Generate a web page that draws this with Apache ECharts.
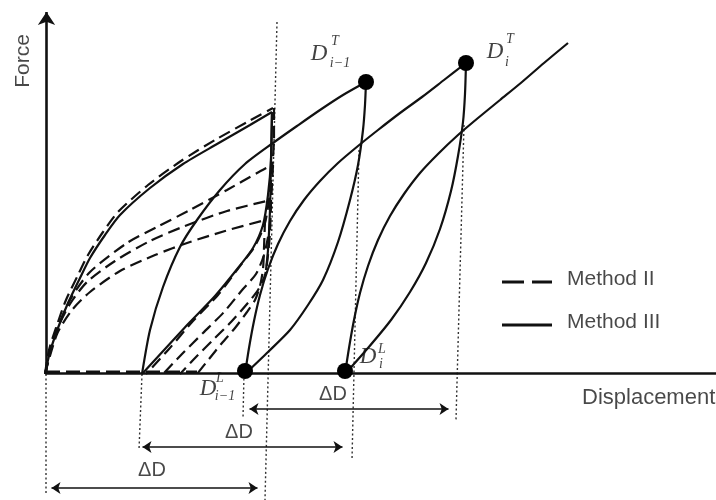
<!DOCTYPE html>
<html><head><meta charset="utf-8">
<script src="https://cdn.jsdelivr.net/npm/echarts/dist/echarts.min.js"></script>
<style>html,body{margin:0;padding:0;background:#fff}#c{width:716px;height:500px}</style>
</head><body><div id="c"></div>
<script>
// Schematic units: x = displacement, y = force
const xRange = [-45, 671];
const yRange = [-126, 374];

// ---- Method III (solid) ----
const m3Backbone = [[0,0],[5,22],[13,46],[23,71],[35,96],[45,116],[60,139],[75,159],[105,186],[138,210],[172,230],[205,249],[227,262]];
const m3Unload1 = [[227,262],[226,214],[223,179],[218,149],[208,126],[193,106],[170,78],[145,52],[120,25],[97,0]];
const m3Drop1 = [[227,262],[226,214],[225,164],[223,124],[221,104]];
const m3Reload1 = [[97,0],[105,44],[118,87],[135,127],[152,154],[175,184],[200,210],[228,231],[252,248],[275,264],[298,279],[321,292]];
const m3Unload2 = [[321,292],[320,269],[318,244],[313,209],[305,174],[293,132],[278,94],[263,69],[245,44],[223,22],[200,0]];
const m3Reload2 = [[200,0],[204,26],[209,53],[215,79],[223,105],[233,130],[245,153],[259,174],[275,193],[293,211],[313,228],[333,244],[355,261],[377,277],[399,294],[421,311]];
const m3Unload3 = [[421,311],[420,280],[418,252],[413,218],[406,183],[395,145],[381,111],[365,82],[346,54],[323,26],[300,0]];
const m3Reload3 = [[300,0],[304,26],[309,54],[315,81],[323,108],[333,134],[345,158],[359,180],[375,201],[393,220],[413,239],[433,256],[455,274],[477,292],[499,311],[523,331]];

// ---- Method II (dashed) ----
const m2Load1 = [[0,0],[4,24],[12,49],[21,74],[33,99],[43,119],[58,142],[73,162],[103,189],[136,213],[170,234],[204,253],[228,266]];
const m2Unload1 = [[229,266],[229,235],[228,217],[225,182],[220,151],[210,128],[195,108],[173,79],[148,53],[124,25],[101,0]];
const m2Load2 = [[0,0],[10,39],[25,74],[45,102],[82,131],[112,147],[145,164],[182,184],[212,201],[227,209]];
const m2Unload2 = [[228,209],[226,171],[224,143],[219,119],[211,100],[198,85],[179,62],[158,41],[137,20],[118,0]];
const m2Load3 = [[0,0],[11,42],[25,70],[42,92],[70,113],[105,133],[140,148],[182,163],[226,174]];
const m2Unload3 = [[226,174],[225,142],[223,119],[220,99],[213,84],[202,70],[186,52],[169,35],[151,17],[135,0]];
const m2Load4 = [[0,0],[12,40],[27,64],[45,82],[75,103],[110,119],[145,132],[180,143],[220,154]];
const m2Unload4 = [[220,154],[219,126],[218,105],[215,88],[210,74],[202,62],[190,46],[177,31],[164,15],[152,0]];
const m2Base = [[1,2],[152,2]];

// key points D^T_{i-1}, D^T_i, D^L_{i-1}, D^L_i
const keyPoints = [[321,292],[421,311],[200,3],[300,3]];

// reference (dotted) lines
const dottedLines = [
  [[1,0],[1,-121]],
  [[97,0],[94,-76]],
  [[199,0],[198,-44]],
  [[232,352],[220,-126]],
  [[314,224],[307,-86]],
  [[419,249],[411,-46]]
];

// ΔD dimension arrows (y level, x from, x to) and labels
const dimArrows = [[-35,204.5,403.5],[-73,97.5,297.5],[-114,6.5,212.5]];
const dimLabelText = ['ΔD','ΔD','ΔD'];
const dimLabelPos = [[288,-20],[194,-58],[107,-96]];

// axes
const xAxisLine = [[1,0.5],[671,0.5]];
const yAxisLine = [[1.5,0],[1.5,362]];
const axisTitleText = ['Force','Displacement'];
const axisTitlePos = [[-22,313],[537,-24]];

// point labels
const ptMainText = ['D','D','D','D'];
const ptMainPos = [[274,320],[450,322],[163,-15],[323,17]];
const ptSupText = ['T','T','L','L'];
const ptSupPos = [[290,333],[465,335],[175,-4],[337,25]];
const ptSubText = ['i\u22121','i','i\u22121','i'];
const ptSubPos = [[295,311],[462,312],[180,-22],[336,10]];

// legend (drawn as samples + text)
const legendNames = ['Method II','Method III'];
const legendSampleY = [92, 49];
const legendSampleX = [457, 507];
const legendTextPos = [[522,95],[522,52]];

const INK = '#111';
const SANS = 'Liberation Sans, Arial, sans-serif';
const SERIF = 'Liberation Serif, Times New Roman, serif';

function curve(name, data, dashed) {
  return {
    name: name, type: 'line', data: data, symbol: 'none', showSymbol: false,
    smooth: 0.25, silent: true, z: 3,
    lineStyle: { color: INK, width: 2.2, type: dashed ? [12, 6] : 'solid', cap: 'butt' },
    itemStyle: { color: INK }
  };
}
function plain(data, style, z) {
  return { type: 'line', data: data, symbol: 'none', silent: true, z: z || 2, lineStyle: style, itemStyle: { color: INK } };
}
function textPoints(texts, pos, label) {
  return {
    type: 'scatter', symbolSize: 0, silent: true, z: 6,
    data: texts.map((t, i) => ({ value: pos[i], label: Object.assign({ show: true, formatter: t }, label) }))
  };
}

const series = [];
[m2Load1, m2Unload1, m2Load2, m2Unload2, m2Load3, m2Unload3, m2Load4, m2Unload4].forEach(d => series.push(curve(legendNames[0], d, true)));
series.push(Object.assign(curve(legendNames[0], m2Base, true), { smooth: false, lineStyle: { color: INK, width: 3, type: [14, 6] } }));
[m3Backbone, m3Unload1, m3Drop1, m3Reload1, m3Unload2, m3Reload2, m3Unload3, m3Reload3].forEach(d => series.push(curve(legendNames[1], d, false)));

dottedLines.forEach(d => series.push(plain(d, { color: '#333', width: 1.4, type: [2, 2.5] }, 1)));

// axes
series.push(plain(xAxisLine, { color: INK, width: 2.6 }, 4));
series.push({
  type: 'line', data: [], silent: true, z: 4,
  markLine: {
    silent: true, animation: false, symbol: ['none', 'arrow'], symbolSize: 13,
    label: { show: false }, lineStyle: { color: INK, width: 2.6, type: 'solid' },
    emphasis: { disabled: true },
    data: [[{ coord: yAxisLine[0] }, { coord: yAxisLine[1] }]]
  }
});
// dimension arrows
series.push({
  type: 'line', data: [], silent: true, z: 4,
  markLine: {
    silent: true, animation: false, symbol: ['arrow', 'arrow'], symbolSize: 9,
    label: { show: false }, lineStyle: { color: INK, width: 1.6, type: 'solid' },
    emphasis: { disabled: true },
    data: dimArrows.map(a => [{ coord: [a[1], a[0]] }, { coord: [a[2], a[0]] }])
  }
});

// key points
series.push({ type: 'scatter', data: keyPoints, symbol: 'circle', symbolSize: 16, silent: true, z: 5, itemStyle: { color: '#000', opacity: 1 } });

// legend samples
series.push(plain([[legendSampleX[0], legendSampleY[0]], [legendSampleX[1], legendSampleY[0]]], { color: INK, width: 3, type: [22, 8] }, 4));
series.push(plain([[legendSampleX[0], legendSampleY[1]], [legendSampleX[1], legendSampleY[1]]], { color: INK, width: 3, type: 'solid' }, 4));
series.push(textPoints(legendNames, legendTextPos, { position: [0, 0], align: 'left', verticalAlign: 'middle', fontFamily: SANS, fontSize: 21, color: '#1a1a1a' }));

// texts
series.push(textPoints(dimLabelText, dimLabelPos, { position: 'inside', align: 'center', verticalAlign: 'middle', fontFamily: SANS, fontSize: 20, color: '#1a1a1a' }));
series.push(textPoints([axisTitleText[0]], [axisTitlePos[0]], { position: 'inside', align: 'center', verticalAlign: 'middle', rotate: 90, fontFamily: SANS, fontSize: 21, color: '#1a1a1a' }));
series.push(textPoints([axisTitleText[1]], [axisTitlePos[1]], { position: [0, 0], align: 'left', verticalAlign: 'middle', fontFamily: SANS, fontSize: 22, color: '#1a1a1a' }));
series.push(textPoints(ptMainText, ptMainPos, { position: 'inside', align: 'center', verticalAlign: 'middle', fontFamily: SERIF, fontStyle: 'italic', fontSize: 23, color: '#111' }));
series.push(textPoints(ptSupText, ptSupPos, { position: 'inside', align: 'center', verticalAlign: 'middle', fontFamily: SERIF, fontStyle: 'italic', fontSize: 14, color: '#111' }));
series.push(textPoints(ptSubText, ptSubPos, { position: 'inside', align: 'center', verticalAlign: 'middle', fontFamily: SERIF, fontStyle: 'italic', fontSize: 14, color: '#111' }));

const chart = echarts.init(document.getElementById('c'), null, { renderer: 'canvas' });
chart.setOption({
  animation: false,
  backgroundColor: '#fff',
  grid: { left: 0, right: 0, top: 0, bottom: 0, containLabel: false },
  xAxis: { type: 'value', min: xRange[0], max: xRange[1], show: false },
  yAxis: { type: 'value', min: yRange[0], max: yRange[1], show: false },
  series: series
});
</script></body></html>
